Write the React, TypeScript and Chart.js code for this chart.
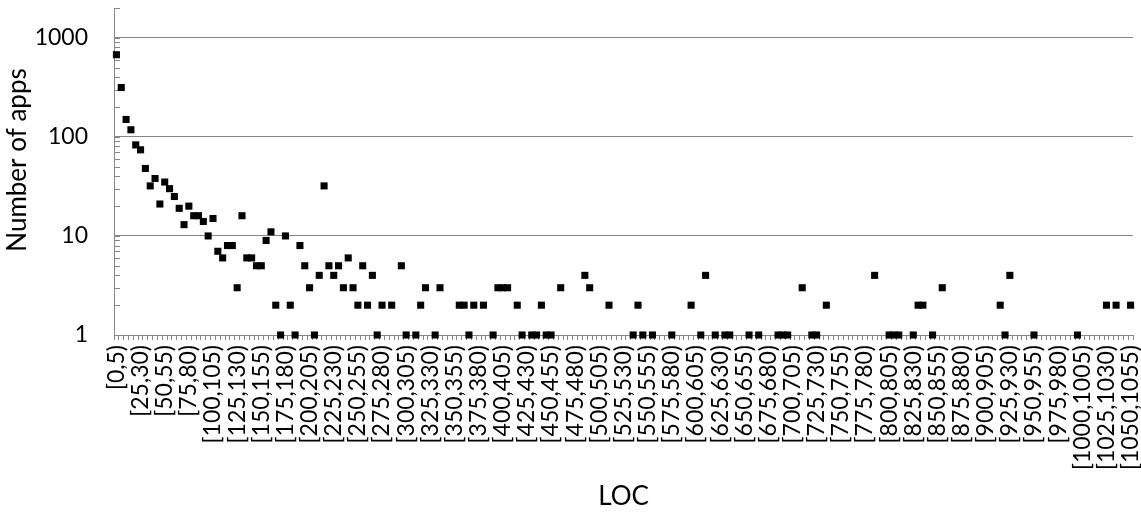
import React, { useEffect, useRef } from 'react';
import { Chart, registerables } from 'chart.js';

Chart.register(...registerables);

const BIN_WIDTH = 5;
const BIN_COUNT = 211;
const categories: string[] = Array.from(
  { length: BIN_COUNT },
  (_, i) => `[${i * BIN_WIDTH},${(i + 1) * BIN_WIDTH})`
);

// number of apps per LOC bin (index = bin number), null = no apps
const appCounts: (number | null)[] = [
  // 0-9
  675, 315, 150, 118, 83, 74, 48, 32, 38, 21,
  // 10-19
  35, 30, 25, 19, 13, 20, 16, 16, 14, 10,
  // 20-29
  15, 7, 6, 8, 8, 3, 16, 6, 6, 5,
  // 30-39
  5, 9, 11, 2, 1, 10, 2, 1, 8, 5,
  // 40-49
  3, 1, 4, 32, 5, 4, 5, 3, 6, 3,
  // 50-59
  2, 5, 2, 4, 1, 2, null, 2, null, 5,
  // 60-69
  1, null, 1, 2, 3, null, 1, 3, null, null,
  // 70-79
  null, 2, 2, 1, 2, null, 2, null, 1, 3,
  // 80-89
  3, 3, null, 2, 1, null, 1, 1, 2, 1,
  // 90-99
  1, null, 3, null, null, null, null, 4, 3, null,
  // 100-109
  null, null, 2, null, null, null, null, 1, 2, 1,
  // 110-119
  null, 1, null, null, null, 1, null, null, null, 2,
  // 120-129
  null, 1, 4, null, 1, null, 1, 1, null, null,
  // 130-139
  null, 1, null, 1, null, null, null, 1, 1, 1,
  // 140-149
  null, null, 3, null, 1, 1, null, 2, null, null,
  // 150-159
  null, null, null, null, null, null, null, 4, null, null,
  // 160-169
  1, 1, 1, null, null, 1, 2, 2, null, 1,
  // 170-179
  null, 3, null, null, null, null, null, null, null, null,
  // 180-189
  null, null, null, 2, 1, 4, null, null, null, null,
  // 190-199
  1, null, null, null, null, null, null, null, null, 1,
  // 200-209
  null, null, null, null, null, 2, null, 2, null, null,
  // 210
  2,
];

const yTickValues = [1, 10, 100, 1000];
const Y_MIN = 1;
const Y_MAX = 2000;
const LABEL_EVERY = 5;
const X_TITLE = 'LOC';
const Y_TITLE = 'Number of apps';

const GRAY = '#878787';
const TEXT = '#000000';
const FONT = 'Lato';
const FONT_SIZE = 23;
const TITLE_SIZE = 26;

const minorTicksPlugin = {
  id: 'minorTicks',
  beforeDatasetsDraw(chart: any) {
    const y = chart.scales.y;
    const { ctx, chartArea } = chart;
    ctx.save();
    ctx.strokeStyle = GRAY;
    ctx.lineWidth = 1;
    for (let k = 0; k <= 3; k++) {
      for (let m = 1; m <= 9; m++) {
        const v = m * Math.pow(10, k);
        if (v > Y_MAX) break;
        const py = Math.round(y.getPixelForValue(v)) + 0.5;
        ctx.beginPath();
        ctx.moveTo(chartArea.left, py);
        ctx.lineTo(chartArea.left + 6, py);
        ctx.stroke();
      }
    }
    ctx.restore();
  },
};

const yTitlePlugin = {
  id: 'yTitle',
  afterDraw(chart: any) {
    const { ctx } = chart;
    ctx.save();
    ctx.translate(18, 160);
    ctx.rotate(-Math.PI / 2);
    ctx.fillStyle = TEXT;
    ctx.font = `${TITLE_SIZE}px ${FONT}`;
    ctx.textAlign = 'center';
    ctx.textBaseline = 'middle';
    ctx.fillText(Y_TITLE, 0, 0);
    ctx.restore();
  },
};

const zeroPadding = (s: any) => {
  s.paddingLeft = 0;
  s.paddingRight = 0;
  s.paddingTop = 0;
  s.paddingBottom = 0;
};

export default function App() {
  const canvasRef = useRef<HTMLCanvasElement | null>(null);

  useEffect(() => {
    if (!canvasRef.current) return;
    const chart = new Chart(canvasRef.current, {
      type: 'line',
      data: {
        labels: categories,
        datasets: [
          {
            data: appCounts,
            showLine: false,
            pointStyle: 'rect',
            pointRadius: 5,
            pointHoverRadius: 5,
            pointBorderWidth: 0,
            backgroundColor: '#000',
            borderColor: '#000',
            clip: false,
          } as any,
        ],
      },
      options: {
        animation: false,
        responsive: false,
        events: [],
        layout: { padding: { top: 8, right: 8, left: 0, bottom: 0 } },
        plugins: {
          legend: { display: false },
          tooltip: { enabled: false },
        },
        scales: {
          x: {
            type: 'category',
            offset: true,
            grid: {
              display: true,
              drawOnChartArea: false,
              drawTicks: true,
              tickLength: 5,
              offset: true,
              color: GRAY,
              lineWidth: 1,
            },
            border: { display: true, color: GRAY, width: 1 },
            ticks: {
              autoSkip: false,
              minRotation: 90,
              maxRotation: 90,
              padding: 5,
              color: TEXT,
              font: { family: FONT, size: FONT_SIZE },
              callback: (_v: any, i: number) =>
                i % LABEL_EVERY === 0 ? categories[i] : '',
            },
            title: {
              display: true,
              text: X_TITLE,
              color: TEXT,
              font: { family: FONT, size: TITLE_SIZE },
              padding: { top: 0, bottom: 0 },
            },
            afterFit: (s: any) => {
              s.height = 177;
              zeroPadding(s);
            },
          },
          y: {
            type: 'logarithmic',
            min: Y_MIN,
            max: Y_MAX,
            grid: {
              drawTicks: false,
              lineWidth: 1,
              color: (c: any) =>
                c.tick && yTickValues.includes(c.tick.value) ? GRAY : 'rgba(0,0,0,0)',
            },
            border: { display: true, color: GRAY, width: 1 },
            ticks: {
              autoSkip: false,
              padding: 26,
              color: TEXT,
              font: { family: FONT, size: FONT_SIZE },
              callback: (v: any) =>
                yTickValues.includes(Number(v)) ? String(v) : '',
            },
            title: { display: false },
            afterFit: (s: any) => {
              s.width = 114;
              zeroPadding(s);
            },
          },
        },
      },
      plugins: [minorTicksPlugin, yTitlePlugin],
    });
    return () => chart.destroy();
  }, []);

  return (
    <div style={{ position: 'absolute', left: 0, top: 0, width: 1141, height: 512 }}>
      <canvas ref={canvasRef} width={1141} height={512} style={{ width: 1141, height: 512 }} />
    </div>
  );
}
